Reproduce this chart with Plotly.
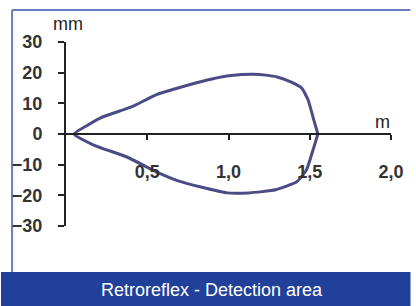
import plotly.graph_objects as go

# Detection area outline (distance in m, lateral offset in mm)
x_top = [0.05, 0.13, 0.21, 0.33, 0.41, 0.55, 0.69, 0.87, 0.99, 1.08, 1.15, 1.23, 1.30, 1.39, 1.45, 1.49, 1.52, 1.55]
y_top = [0.0, 2.8, 5.2, 7.5, 9.0, 12.7, 15.0, 17.6, 18.9, 19.4, 19.5, 19.2, 18.6, 16.8, 15.0, 11.1, 5.5, 0.0]
x_bot = [0.05, 0.17, 0.375, 0.57, 0.69, 0.83, 0.99, 1.125, 1.29, 1.42, 1.48, 1.52, 1.55]
y_bot = [0.0, -3.6, -7.5, -12.7, -15.3, -17.3, -19.2, -19.2, -18.2, -15.6, -11.7, -5.2, 0.0]

x_ticks = [0.5, 1.0, 1.5, 2.0]
x_tick_labels = ["0,5", "1,0", "1,5", "2,0"]
y_ticks = [-30, -20, -10, 0, 10, 20, 30]

title_text = "Retroreflex - Detection area"
x_unit = "m"
y_unit = "mm"

FONT = "Arial, Liberation Sans, sans-serif"
CURVE = "#4b4b85"
AXIS = "#222222"

xs = x_top + x_bot[::-1]
ys = y_top + y_bot[::-1]

fig = go.Figure()
fig.add_trace(go.Scatter(
    x=xs, y=ys, mode="lines",
    line=dict(color=CURVE, width=3, shape="spline", smoothing=0.5),
    hoverinfo="skip", showlegend=False,
))

fig.update_layout(
    width=416, height=306,
    margin=dict(l=64, r=15, t=42, b=80),
    paper_bgcolor="white", plot_bgcolor="white",
    showlegend=False,
    xaxis=dict(
        range=[0, 2], anchor="free", position=0.5,
        tickvals=x_ticks, ticktext=x_tick_labels,
        ticks="outside", ticklen=5, tickwidth=2, tickcolor=AXIS,
        showline=True, linecolor=AXIS, linewidth=2,
        showgrid=False, zeroline=False,
        ticklabelstandoff=16,
        tickfont=dict(family=FONT, size=18, color="#333333", weight="bold"),
    ),
    yaxis=dict(
        range=[-30, 30], tickvals=y_ticks,
        ticks="outside", ticklen=6, tickwidth=2, tickcolor=AXIS,
        showline=True, linecolor=AXIS, linewidth=2,
        showgrid=False, zeroline=False,
        ticklabelstandoff=12,
        tickfont=dict(family=FONT, size=18, color="#333333", weight="bold"),
    ),
    shapes=[
        dict(type="line", xref="paper", yref="paper", x0=-0.166, x1=1.06, y0=1.174, y1=1.174,
             line=dict(color="#6a7fc0", width=2), layer="below"),
        dict(type="line", xref="paper", yref="paper", x0=-0.166, x1=-0.166, y0=1.174, y1=-0.25,
             line=dict(color="#6a7fc0", width=2), layer="below"),
        dict(type="rect", xref="paper", yref="paper", x0=-0.2, x1=1.06, y0=-0.25, y1=-0.46,
             fillcolor="#21409a", line=dict(width=0), layer="below"),
    ],
    annotations=[
        dict(text=y_unit, xref="paper", yref="paper", x=0.006, y=1.098,
             xanchor="center", yanchor="middle", showarrow=False,
             font=dict(family=FONT, size=18, color="#222222")),
        dict(text=x_unit, xref="paper", yref="paper", x=0.975, y=0.567,
             xanchor="center", yanchor="middle", showarrow=False,
             font=dict(family=FONT, size=18, color="#222222")),
        dict(text=title_text, xref="paper", yref="paper", x=(215 - 64) / 337, y=(226 - 290) / 184,
             xanchor="center", yanchor="middle", showarrow=False,
             font=dict(family=FONT, size=18, color="white")),
    ],
)

fig.write_html("out.html", config={"displayModeBar": False, "staticPlot": True},
               post_script="document.body.style.margin='0';document.body.style.overflow='hidden';")
